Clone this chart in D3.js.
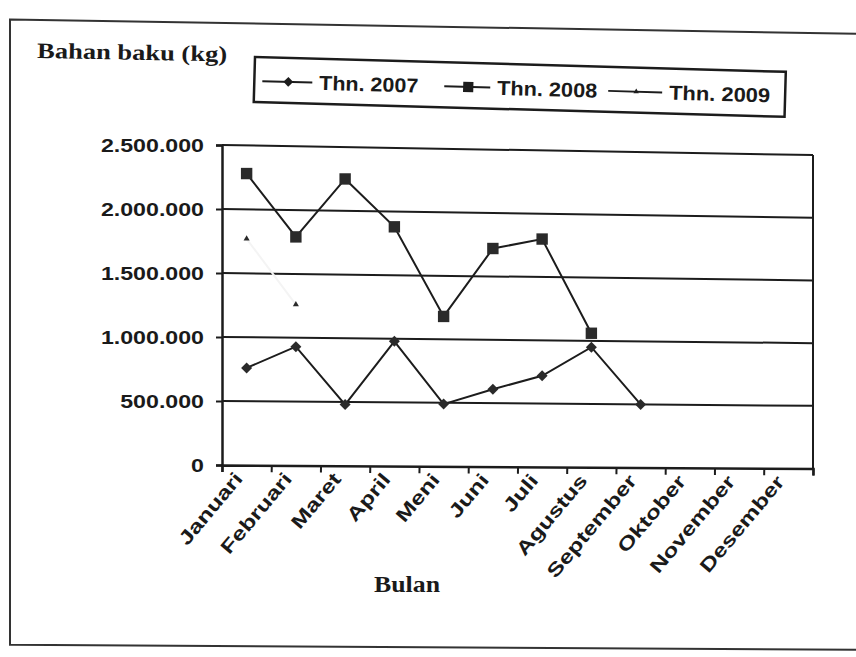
<!DOCTYPE html>
<html>
<head>
<meta charset="utf-8">
<script src="https://cdn.jsdelivr.net/npm/d3@7"></script>
<style>
  body { margin: 0; background: #fff; }
  text { fill: #1a1a1a; }
</style>
</head>
<body>
<div id="chart"></div>
<script>
var months = ["Januari", "Februari", "Maret", "April", "Meni", "Juni", "Juli",
              "Agustus", "September", "Oktober", "November", "Desember"];
var thn2007 = [760000, 930000, 480000, 980000, 490000, 610000, 720000, 950000, 500000, null, null, null];
var thn2008 = [2280000, 1790000, 2250000, 1880000, 1180000, 1720000, 1800000, 1060000, null, null, null, null];
var thn2009 = [1770000, 1260000, null, null, null, null, null, null, null, null, null, null];
var seriesNames = ["Thn. 2007", "Thn. 2008", "Thn. 2009"];
var yTicks = [0, 500000, 1000000, 1500000, 2000000, 2500000];

var w = 856, h = 657;
var plotLeft = 222, plotRight = 813, plotTop = 145, plotBottom = 465;
var ink = "#1c1c1c";

// the scanned page is bent: the top of the chart slopes down to the right more than the bottom
var slopeTop = 0.017, slopeBottom = 0.006;
function warpY(px, py) {
  var t = Math.max(0, Math.min(1, (py - plotTop) / (plotBottom - plotTop)));
  return py + (slopeTop + (slopeBottom - slopeTop) * t) * (px - plotLeft);
}

var svg = d3.select("#chart")
  .append("svg")
  .attr("width", w)
  .attr("height", h);

// outer frame of the figure
var frame = [[10, 23], [880, 23], [880, 646], [10, 646]].map(function(p) { return [p[0], warpY(p[0], p[1])]; });
svg.append("path")
  .attr("d", d3.line()(frame) + "Z")
  .attr("fill", "none")
  .attr("stroke", "#333")
  .attr("stroke-width", 2);

var x = d3.scaleBand().domain(months).range([plotLeft, plotRight]);
var xEdge = d3.scaleLinear().domain([0, months.length]).range([plotLeft, plotRight]);
var y = d3.scaleLinear().domain([0, 2500000]).range([plotBottom, plotTop]);

var fmt = d3.formatLocale({decimal: ",", thousands: ".", grouping: [3], currency: ["", ""]}).format(",d");

// horizontal gridlines
svg.selectAll("line.grid")
  .data(yTicks.slice(1))
  .enter()
  .append("line")
  .attr("class", "grid")
  .attr("x1", plotLeft).attr("x2", plotRight)
  .attr("y1", function(d) { return warpY(plotLeft, y(d)); })
  .attr("y2", function(d) { return warpY(plotRight, y(d)); })
  .attr("stroke", ink)
  .attr("stroke-width", 2);

// right edge of plot
svg.append("line")
  .attr("x1", plotRight).attr("x2", plotRight)
  .attr("y1", warpY(plotRight, plotTop)).attr("y2", warpY(plotRight, plotBottom))
  .attr("stroke", ink).attr("stroke-width", 2);

// y axis
var yAxis = svg.append("g")
  .attr("transform", "translate(" + plotLeft + ",0)")
  .call(d3.axisLeft(y).tickValues(yTicks).tickFormat(fmt).tickSize(6).tickPadding(12));
yAxis.select(".domain").attr("stroke", ink).attr("stroke-width", 2.5);
yAxis.selectAll(".tick line").attr("stroke", ink).attr("stroke-width", 2);
yAxis.selectAll("text")
  .attr("font-family", "Liberation Sans, Arial, sans-serif")
  .attr("font-weight", "bold")
  .attr("font-size", 19)
  .attr("fill", ink)
  .each(function() {
    d3.select(this).attr("textLength", this.getComputedTextLength() * 1.22).attr("lengthAdjust", "spacingAndGlyphs");
  });

// x axis: ticks at month boundaries
var xAngle = Math.atan(slopeBottom) * 180 / Math.PI;
var xAxis = svg.append("g")
  .attr("transform", "translate(0," + plotBottom + ") rotate(" + xAngle + "," + plotLeft + ",0)")
  .call(d3.axisBottom(xEdge).ticks(months.length).tickFormat("").tickSize(7));
xAxis.select(".domain").attr("stroke", ink).attr("stroke-width", 2.5);
xAxis.selectAll(".tick line").attr("stroke", ink).attr("stroke-width", 2);

svg.selectAll("text.month")
  .data(months)
  .enter()
  .append("text")
  .attr("class", "month")
  .attr("transform", function(d) {
    var px = x(d) + x.bandwidth() / 2 - 3;
    return "translate(" + px + "," + (warpY(px, plotBottom) + 14) + ") rotate(-50)";
  })
  .attr("text-anchor", "end")
  .attr("font-family", "Liberation Sans, Arial, sans-serif")
  .attr("font-weight", "bold")
  .attr("font-size", 19)
  .text(function(d) { return d; })
  .each(function() {
    d3.select(this).attr("textLength", this.getComputedTextLength() * 1.3).attr("lengthAdjust", "spacingAndGlyphs");
  });

// axis titles
svg.append("text")
  .attr("x", 37).attr("y", 58)
  .attr("transform", "rotate(1,37,58)")
  .attr("font-family", "Liberation Serif, Times New Roman, serif")
  .attr("font-weight", "bold")
  .attr("font-size", 22)
  .attr("textLength", 190).attr("lengthAdjust", "spacingAndGlyphs")
  .text("Bahan baku (kg)");

svg.append("text")
  .attr("x", 407).attr("y", 592)
  .attr("text-anchor", "middle")
  .attr("font-family", "Liberation Serif, Times New Roman, serif")
  .attr("font-weight", "bold")
  .attr("font-size", 23)
  .attr("textLength", 66).attr("lengthAdjust", "spacingAndGlyphs")
  .text("Bulan");

// series lines and markers
var cx = function(d, i) { return x(months[i]) + x.bandwidth() / 2; };
var line = d3.line()
  .defined(function(d) { return d != null; })
  .x(cx)
  .y(function(d, i) { return warpY(cx(d, i), y(d)); });

var series = [
  {name: seriesNames[0], values: thn2007, symbol: d3.symbolSquare, size: 60, rot: 45, stroke: ink},
  {name: seriesNames[1], values: thn2008, symbol: d3.symbolSquare, size: 130, rot: 0, stroke: ink},
  {name: seriesNames[2], values: thn2009, symbol: d3.symbolTriangle, size: 16, rot: 0, stroke: "#f4f4f4"}
];

series.forEach(function(s) {
  svg.append("path")
    .datum(s.values)
    .attr("d", line)
    .attr("fill", "none")
    .attr("stroke", s.stroke)
    .attr("stroke-width", 2);

  svg.selectAll(null)
    .data(s.values.map(function(v, i) { return {v: v, i: i}; }).filter(function(p) { return p.v != null; }))
    .enter()
    .append("path")
    .attr("d", d3.symbol().type(s.symbol).size(s.size))
    .attr("transform", function(p) {
      var px = cx(p.v, p.i);
      return "translate(" + px + "," + warpY(px, y(p.v)) + ") rotate(" + s.rot + ")";
    })
    .attr("fill", "#2a2a2a");
});

// legend
var legend = svg.append("g").attr("transform", "translate(255,57) rotate(1.6)");
legend.append("rect")
  .attr("width", 531).attr("height", 45)
  .attr("fill", "#fff")
  .attr("stroke", ink).attr("stroke-width", 2.5);

var legendX = [8, 190, 354];
var legendLine = [50, 46, 54];
var legendText = [99, 100, 101];
var items = legend.selectAll("g.item")
  .data(series)
  .enter()
  .append("g")
  .attr("class", "item")
  .attr("transform", function(d, i) { return "translate(" + legendX[i] + ",24)"; });

items.append("line")
  .attr("x1", 0).attr("x2", function(d, i) { return legendLine[i]; })
  .attr("stroke", ink).attr("stroke-width", 2);
items.append("path")
  .attr("d", function(d) { return d3.symbol().type(d.symbol).size(d.size * 0.8)(); })
  .attr("transform", function(d, i) { return "translate(" + (legendLine[i] / 2 + 1) + ",0) rotate(" + d.rot + ")"; })
  .attr("fill", ink);
items.append("text")
  .attr("x", function(d, i) { return legendLine[i] + 7; })
  .attr("dy", "0.35em")
  .attr("font-family", "Liberation Sans, Arial, sans-serif")
  .attr("font-weight", "bold")
  .attr("font-size", 20)
  .attr("textLength", function(d, i) { return legendText[i]; })
  .attr("lengthAdjust", "spacingAndGlyphs")
  .text(function(d) { return d.name; });
</script>
</body>
</html>
